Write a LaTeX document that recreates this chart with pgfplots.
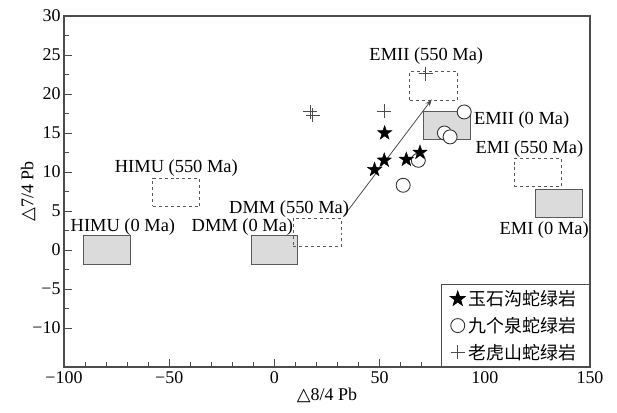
\documentclass[border=0pt]{standalone}
\usepackage{fontspec}
\setmainfont{Liberation Serif}
\newfontfamily\cjk{Noto Sans CJK SC}
\newfontfamily\symf{DejaVu Sans}
\usepackage{pgfplots}
\pgfplotsset{compat=1.18}
\usetikzlibrary{arrows.meta}
\definecolor{boxfill}{gray}{0.86}
\definecolor{edge}{gray}{0.35}
\definecolor{axc}{gray}{0.3}

\pgfdeclareplotmark{fstar}{%
  \pgfpathmoveto{\pgfpointpolar{90}{\pgfplotmarksize}}%
  \pgfpathlineto{\pgfpointpolar{126}{0.4\pgfplotmarksize}}%
  \pgfpathlineto{\pgfpointpolar{162}{\pgfplotmarksize}}%
  \pgfpathlineto{\pgfpointpolar{198}{0.4\pgfplotmarksize}}%
  \pgfpathlineto{\pgfpointpolar{234}{\pgfplotmarksize}}%
  \pgfpathlineto{\pgfpointpolar{270}{0.4\pgfplotmarksize}}%
  \pgfpathlineto{\pgfpointpolar{306}{\pgfplotmarksize}}%
  \pgfpathlineto{\pgfpointpolar{342}{0.4\pgfplotmarksize}}%
  \pgfpathlineto{\pgfpointpolar{18}{\pgfplotmarksize}}%
  \pgfpathlineto{\pgfpointpolar{54}{0.4\pgfplotmarksize}}%
  \pgfpathclose
  \pgfusepathqfillstroke
}
\tikzset{lbl/.style={font=\fontsize{18.5}{21}\selectfont, inner sep=0pt}}

\begin{document}
\begin{tikzpicture}
\begin{axis}[
  scale only axis, width=526bp, height=351bp,
  xmin=-100, xmax=150, ymin=-15, ymax=30,
  xtick={-100,-50,0,50,100,150},
  xticklabels={−100,−50,0,50,100,150},
  ytick={-10,-5,0,5,10,15,20,25,30},
  yticklabels={−10,−5,0,5,10,15,20,25,30},
  minor x tick num=4, minor y tick num=1,
  tick align=inside, tick pos=left,
  major tick length=8bp, minor tick length=5bp,
  axis line style={draw=axc, line width=1.2bp},
  every tick/.style={axc, line width=1bp},
  tick label style={font=\fontsize{18}{21}\selectfont},
  xticklabel style={yshift=-1bp},
  label style={font=\fontsize{18}{21}\selectfont},
  xlabel={{\symf △}8/4 Pb},
  ylabel={{\symf △}7/4 Pb},
  xlabel style={at={(axis description cs:0.5,-0.08)}, anchor=center},
  ylabel style={at={(axis description cs:-0.068,0.5)}, anchor=center},
  legend style={at={(1,0)}, anchor=south east, draw=axc, line width=1bp,
    font=\cjk\fontsize{18}{21}\selectfont, row sep=6bp,
    inner xsep=9bp, inner ysep=4bp,
    nodes={inner xsep=4bp}},
  legend cell align=left,
]
% model boxes (0 Ma)
\addplot[forget plot, fill=boxfill, draw=edge, line width=1bp] coordinates {(-90.5,-1.8) (-68.5,-1.8) (-68.5,1.8) (-90.5,1.8)} -- cycle;
\addplot[forget plot, fill=boxfill, draw=edge, line width=1bp] coordinates {(-11,-1.8) (11,-1.8) (11,1.8) (-11,1.8)} -- cycle;
\addplot[forget plot, fill=boxfill, draw=edge, line width=1bp] coordinates {(71,14.2) (93,14.2) (93,17.7) (71,17.7)} -- cycle;
\addplot[forget plot, fill=boxfill, draw=edge, line width=1bp] coordinates {(124.2,4.2) (146.3,4.2) (146.3,7.8) (124.2,7.8)} -- cycle;
% model boxes (550 Ma)
\addplot[forget plot, draw=edge, dashed, line width=0.9bp] coordinates {(-57.8,5.6) (-35.4,5.6) (-35.4,9.2) (-57.8,9.2)} -- cycle;
\addplot[forget plot, draw=edge, dashed, line width=0.9bp] coordinates {(9,0.4) (32,0.4) (32,4.1) (9,4.1)} -- cycle;
\addplot[forget plot, draw=edge, dashed, line width=0.9bp] coordinates {(64.4,19.2) (86.9,19.2) (86.9,22.9) (64.4,22.9)} -- cycle;
\addplot[forget plot, draw=edge, dashed, line width=0.9bp] coordinates {(114,8.1) (136.5,8.1) (136.5,11.7) (114,11.7)} -- cycle;
% arrow
\addplot[forget plot, draw=black!70, line width=0.8bp, -{Stealth[length=7bp,width=5bp]}] coordinates {(32.8,4.3) (74.8,19.3)};

% labels
\node[lbl] at (axis cs:-72,3.0) {HIMU (0 Ma)};
\node[lbl] at (axis cs:-46.6,10.5) {HIMU (550 Ma)};
\node[lbl] at (axis cs:-15.2,2.9) {DMM (0 Ma)};
\node[lbl] at (axis cs:7,5.2) {DMM (550 Ma)};
\node[lbl] at (axis cs:72.2,24.8) {EMII (550 Ma)};
\node[lbl] at (axis cs:117.5,16.7) {EMII (0 Ma)};
\node[lbl] at (axis cs:121.2,13) {EMI (550 Ma)};
\node[lbl] at (axis cs:128.2,2.5) {EMI (0 Ma)};

% legend images
\addlegendimage{only marks, mark=fstar, mark size=7.5bp, black, fill=black}
\addlegendentry{玉石沟蛇绿岩}
\addlegendimage{only marks, mark=o, mark size=7bp, draw=black!80, line width=0.9bp}
\addlegendentry{九个泉蛇绿岩}
\addlegendimage{only marks, mark=+, mark size=7bp, draw=black!70, line width=1bp}
\addlegendentry{老虎山蛇绿岩}

% data: Jiugequan (circles)
\addplot[forget plot, only marks, mark=*, mark size=7bp, draw=black!80, fill=white, line width=0.9bp] coordinates {
(90.2,17.7) (80.8,15.0) (83.5,14.5) (68.4,11.5) (61.2,8.3)};
% data: Yushigou (stars)
\addplot[forget plot, only marks, mark=fstar, mark size=7.5bp, black, fill=black] coordinates {
(52.4,15.0) (52.2,11.5) (47.6,10.3) (62.7,11.6) (69.2,12.5)};
% data: Laohushan (crosses)
\addplot[forget plot, only marks, mark=+, mark size=7bp, draw=black!70, line width=1bp] coordinates {
(71.9,22.6) (52.2,17.8) (17.0,17.7) (18.3,17.3)};
\end{axis}
\path (-64bp,-46bp) rectangle (553bp,367bp);
\end{tikzpicture}
\end{document}
